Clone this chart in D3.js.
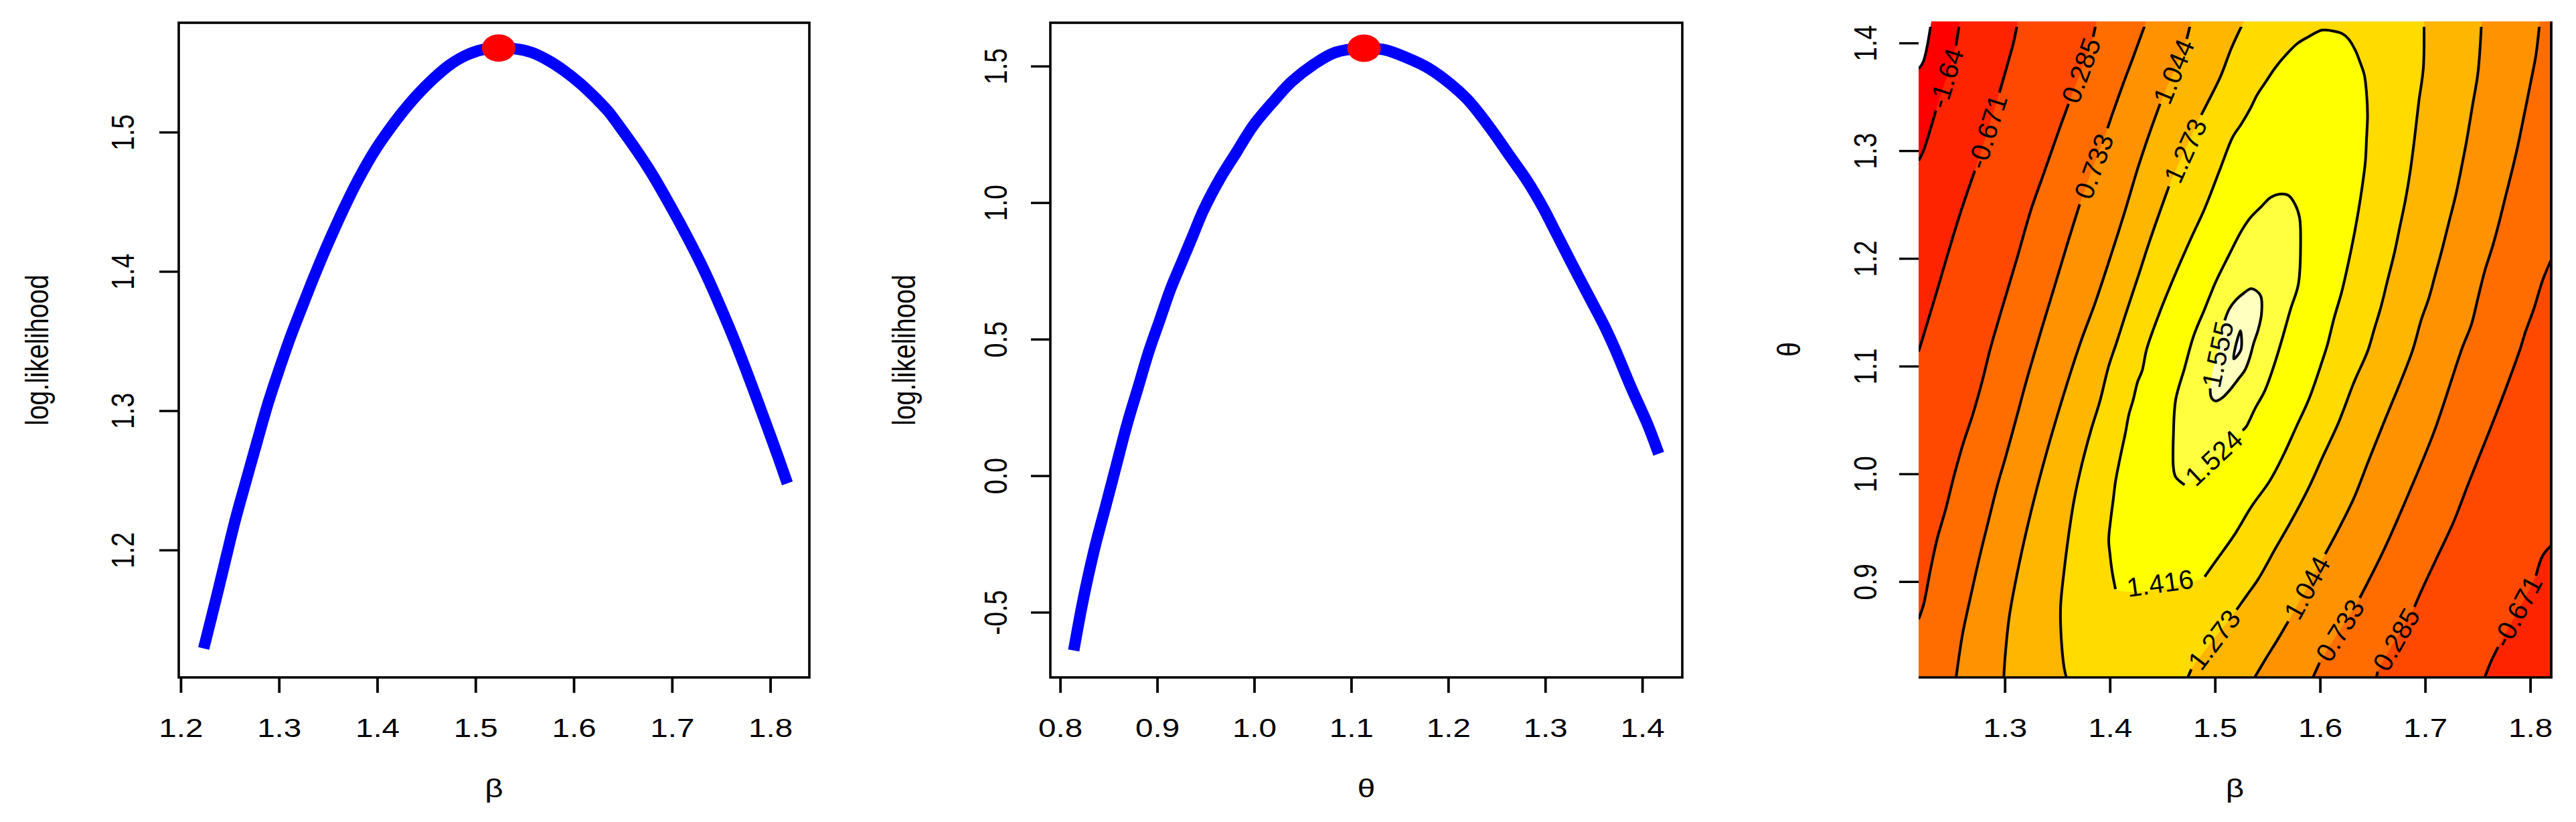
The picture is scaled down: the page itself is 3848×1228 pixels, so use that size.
<!DOCTYPE html>
<html><head><meta charset="utf-8">
<script src="https://cdn.jsdelivr.net/npm/d3@7"></script>
<style>
html,body{margin:0;padding:0;background:#fff;}
svg{display:block;}
text{font-family:"Liberation Sans",Arial,Helvetica,sans-serif;fill:#000;}
</style></head><body>
<svg id="chart" width="3848" height="1228"></svg>
<script>
// ---------------- DATA ----------------
// Panel 1: profile log-likelihood vs beta
const betaValues = [1.2234,1.2363,1.2446,1.2558,1.2669,1.2781,1.2892,1.3004,1.3115,1.3227,1.3339,1.3450,1.3562,1.3673,1.3785,1.3952,1.4064,1.4231,1.4398,1.4566,1.4733,1.4900,1.5067,1.5235,1.5402,1.5569,1.5737,1.5904,1.6071,1.6239,1.6350,1.6462,1.6629,1.6796,1.6964,1.7131,1.7298,1.7410,1.7521,1.7633,1.7744,1.7856,1.7968,1.8079,1.8174];
const llBetaValues = [1.1293,1.1658,1.1900,1.2222,1.2505,1.2787,1.3060,1.3300,1.3525,1.3730,1.3930,1.4120,1.4300,1.4470,1.4630,1.4840,1.4960,1.5120,1.5260,1.5380,1.5480,1.5550,1.5591,1.5602,1.5598,1.5572,1.5516,1.5440,1.5346,1.5233,1.5150,1.5045,1.4880,1.4700,1.4495,1.4280,1.4050,1.3880,1.3700,1.3510,1.3310,1.3100,1.2885,1.2670,1.2478];
const mleBeta = [1.5236, 1.5604];

// Panel 2: profile log-likelihood vs theta
const thetaValues = [0.8140,0.8237,0.8350,0.8463,0.8576,0.8689,0.8802,0.8915,0.9028,0.9141,0.9254,0.9367,0.9480,0.9650,0.9819,0.9989,1.0215,1.0384,1.0610,1.0836,1.1130,1.1345,1.1571,1.1797,1.2023,1.2192,1.2305,1.2475,1.2644,1.2814,1.2983,1.3096,1.3266,1.3435,1.3605,1.3718,1.3887,1.4056,1.4170];
const llThetaValues = [-0.640,-0.455,-0.2735,-0.120,0.0336,0.1871,0.3215,0.4559,0.5710,0.6862,0.7821,0.8781,0.9741,1.0893,1.1852,1.2812,1.3772,1.4420,1.5050,1.5499,1.5653,1.5595,1.5307,1.4923,1.4347,1.3800,1.3330,1.2524,1.1660,1.0797,0.9780,0.9000,0.7821,0.6670,0.5518,0.4650,0.3215,0.1871,0.0800];
const mleTheta = [1.1132, 1.5654];

// axis limits and ticks
const xlim1 = [1.198, 1.8398], ylim1 = [1.1085, 1.5785];
const xlim2 = [0.7899, 1.4413], ylim2 = [-0.7388, 1.6586];
const xlim3 = [1.218, 1.820],  ylim3 = [0.811, 1.420];
const xTicks1 = [1.2,1.3,1.4,1.5,1.6,1.7,1.8];
const yTicks1 = [1.2,1.3,1.4,1.5];
const xTicks2 = [0.8,0.9,1.0,1.1,1.2,1.3,1.4];
const yTicks2 = [-0.5,0.0,0.5,1.0,1.5];
const xTicks3 = [1.3,1.4,1.5,1.6,1.7,1.8];
const yTicks3 = [0.9,1.0,1.1,1.2,1.3,1.4];

// Panel 3: contour breaks and heat colours
const contourBreaks = [-2.61, -1.64, -0.671, 0.285, 0.733, 1.044, 1.273, 1.416, 1.524, 1.555, 1.563];
const heatColors = ["#FF0000","#FF2400","#FF4900","#FF6D00","#FF9200","#FFB600","#FFDB00","#FFFF00","#FFFF40","#FFFFBF"];

// contour polylines [beta, theta] (A = before label, B = after label)
const cMin = [[1.2301,1.420],[1.2225,1.3827],[1.218,1.3759]];
const c164L_A = [[1.2572,1.420],[1.2535,1.3974]];
const c164L_B = [[1.2344,1.3373],[1.2301,1.3229],[1.2227,1.3000],[1.218,1.2907]];
const c0671L_A = [[1.3123,1.420],[1.3086,1.4015],[1.3034,1.3829],[1.2949,1.3539]];
const c0671L_B = [[1.2715,1.2814],[1.2577,1.2421],[1.2460,1.2048],[1.2354,1.1696],[1.2258,1.1385],[1.218,1.1136]];
const c0671R_A = [[1.820,0.9334],[1.8119,0.9241],[1.8055,0.9055]];
const c0671R_B = [[1.7695,0.8392],[1.7631,0.8267],[1.7567,0.811]];
const c0285L_A = [[1.3873,1.420],[1.3841,1.4057]];
const c0285L_B = [[1.3607,1.3435],[1.3522,1.3208],[1.3373,1.2794],[1.3246,1.2441],[1.3118,1.2006],[1.2991,1.1592],[1.2864,1.1167],[1.2779,1.0836],[1.2694,1.0546],[1.2609,1.0297],[1.2524,1.0007],[1.2439,0.9676],[1.2354,0.9386],[1.2290,0.9096],[1.2227,0.8785],[1.218,0.8651]];
const c0285R_A = [[1.820,1.1988],[1.8119,1.1799],[1.8034,1.1530],[1.7949,1.1302],[1.7907,1.1167],[1.7737,1.0712],[1.7588,1.0339],[1.7418,0.9925],[1.7270,0.9552],[1.7121,0.9241],[1.6972,0.8930],[1.6898,0.8764]];
const c0285R_B = [[1.6548,0.8164],[1.6537,0.811]];
const c0733L_A = [[1.4346,1.420],[1.4223,1.3871],[1.4127,1.3622],[1.4021,1.3332],[1.3978,1.3208]];
const c0733L_B = [[1.3713,1.2503],[1.3607,1.2172],[1.3479,1.1758],[1.3363,1.1385],[1.3204,1.0857],[1.3118,1.0546],[1.3013,1.0173],[1.2927,0.9883],[1.2842,0.9552],[1.2758,0.9220],[1.2672,0.8848],[1.2599,0.8516],[1.2537,0.811]];
const c0733R_A = [[1.8091,1.420],[1.8055,1.3891],[1.8002,1.3622],[1.7938,1.3311],[1.7886,1.3063],[1.7832,1.2835],[1.7768,1.2586],[1.7705,1.2338],[1.7641,1.2110],[1.7567,1.1882],[1.7503,1.1633],[1.7440,1.1385],[1.7352,1.1167],[1.7089,1.0401],[1.6845,0.9821],[1.6612,0.9303],[1.6378,0.8848]];
const c0733R_B = [[1.5996,0.8247],[1.5932,0.811]];
const c1044L_A = [[1.4773,1.420],[1.4732,1.4037]];
const c1044L_B = [[1.4478,1.3435],[1.4371,1.3145],[1.4265,1.2835],[1.4138,1.2421],[1.3989,1.1965],[1.3862,1.1592],[1.3713,1.1198],[1.3501,1.0546],[1.3373,1.0111],[1.3246,0.9634],[1.3140,0.9179],[1.3044,0.8682],[1.3002,0.8288],[1.2991,0.811]];
const c1044R_A = [[1.7537,1.420],[1.7503,1.3726],[1.7450,1.3415],[1.7397,1.3104],[1.7344,1.2835],[1.7291,1.2586],[1.7227,1.2338],[1.7163,1.2089],[1.7100,1.1862],[1.7036,1.1633],[1.6962,1.1427],[1.6877,1.1136],[1.6590,1.0434],[1.6452,1.0097],[1.6325,0.9781],[1.6176,0.9486],[1.6049,0.9255]];
const c1044R_B = [[1.5698,0.8630],[1.5592,0.8454],[1.5486,0.8288],[1.5378,0.811]];
const c1273L_A = [[1.5275,1.420],[1.5157,1.3953],[1.5051,1.3684],[1.4924,1.3435],[1.4870,1.3332]];
const c1273L_B = [[1.4562,1.2669],[1.4456,1.2379],[1.4361,1.2110],[1.4265,1.1820],[1.4159,1.1509],[1.4064,1.1219],[1.3989,1.1001],[1.3904,1.0670],[1.3819,1.0401],[1.3734,1.0090],[1.3660,0.9759],[1.3607,0.9427],[1.3564,0.9096],[1.3532,0.8785],[1.3532,0.8578],[1.3564,0.8205],[1.3586,0.811]];
const c1273R_A = [[1.6989,1.420],[1.6983,1.3767],[1.6940,1.3456],[1.6898,1.3104],[1.6856,1.2794],[1.6813,1.2545],[1.6760,1.2296],[1.6707,1.2048],[1.6643,1.1799],[1.6580,1.1551],[1.6516,1.1343],[1.6452,1.1136],[1.6325,1.0855],[1.6176,1.0476],[1.6027,1.0161],[1.5900,0.9887],[1.5730,0.9570],[1.5582,0.9318],[1.5412,0.9023],[1.5306,0.8876],[1.5206,0.8738]];
const c1273R_B = [[1.4775,0.8185],[1.4741,0.811]];
const c1416 = [[1.4053,0.8930],[1.4021,0.9096],[1.4000,0.9262],[1.3989,0.9386],[1.4010,0.9593],[1.4032,0.9759],[1.4053,0.9925],[1.4085,1.0090],[1.4116,1.0235],[1.4148,1.0380],[1.4180,1.0546],[1.4223,1.0691],[1.4265,1.0857],[1.4308,1.0960],[1.4350,1.1157],[1.4478,1.1509],[1.4626,1.1862],[1.4775,1.2193],[1.4902,1.2462],[1.5051,1.2835],[1.5168,1.3125],[1.5252,1.3249],[1.5338,1.3394],[1.5401,1.3518],[1.5486,1.3643],[1.5571,1.3767],[1.5677,1.3891],[1.5784,1.3995],[1.5889,1.4057],[1.6017,1.4119],[1.6102,1.4115],[1.6208,1.4088],[1.6271,1.4037],[1.6335,1.3933],[1.6378,1.3829],[1.6421,1.3705],[1.6442,1.3539],[1.6452,1.3332],[1.6442,1.3104],[1.6431,1.2897],[1.6389,1.2586],[1.6335,1.2275],[1.6271,1.1965],[1.6208,1.1696],[1.6134,1.1447],[1.6070,1.1198],[1.6027,1.1066],[1.5900,1.0708],[1.5773,1.0434],[1.5645,1.0161],[1.5518,0.9929],[1.5348,0.9697],[1.5178,0.9423],[1.5008,0.9191],[1.4902,0.9044]];
const c1524 = [[1.4711,0.9897],[1.4626,0.9971],[1.4605,1.0055],[1.4605,1.0371],[1.4626,1.0687],[1.4711,1.0982],[1.4796,1.1277],[1.4902,1.1530],[1.5008,1.1783],[1.5136,1.2036],[1.5252,1.2255],[1.5338,1.2379],[1.5443,1.2483],[1.5529,1.2566],[1.5613,1.2597],[1.5698,1.2586],[1.5762,1.2503],[1.5805,1.2379],[1.5815,1.2172],[1.5794,1.1762],[1.5720,1.1530],[1.5634,1.1235],[1.5561,1.1003],[1.5475,1.0772],[1.5380,1.0603],[1.5295,1.0434],[1.5263,1.0403]];
const c1555 = [[1.5093,1.1425],[1.5136,1.1530],[1.5199,1.1614],[1.5274,1.1677],[1.5348,1.1719],[1.5433,1.1656],[1.5443,1.1487],[1.5412,1.1340],[1.5369,1.1214],[1.5327,1.1066],[1.5284,1.0961],[1.5220,1.0877],[1.5136,1.0772],[1.5072,1.0708],[1.5008,1.0676],[1.4966,1.0708],[1.4955,1.0793]];
const cMax = [[1.5242,1.1329],[1.5246,1.1149],[1.5178,1.1068]];

// tables built from the arrays above
const openContours = [
  {level:-1.64,  left:[c164L_A,c164L_B],   right:null},
  {level:-0.671, left:[c0671L_A,c0671L_B], right:[c0671R_A,c0671R_B]},
  {level:0.285,  left:[c0285L_A,c0285L_B], right:[c0285R_A,c0285R_B]},
  {level:0.733,  left:[c0733L_A,c0733L_B], right:[c0733R_A,c0733R_B]},
  {level:1.044,  left:[c1044L_A,c1044L_B], right:[c1044R_A,c1044R_B]},
  {level:1.273,  left:[c1273L_A,c1273L_B], right:[c1273R_A,c1273R_B]}
];
const closedContours = [
  {level:1.416, path:c1416},
  {level:1.524, path:c1524},
  {level:1.555, path:c1555}
];

// ---------------- DRAWING ----------------
const svg = d3.select("#chart");
const SX = 1.22;          // horizontal stretch of the original raster (axis text)
const FS = 39, LFS = 40;   // font sizes

function addText(g, str, x, y, rot, size) {
  return g.append("text").text(str)
    .attr("transform", `translate(${x},${y}) scale(${SX},1) rotate(${rot||0})`)
    .attr("text-anchor","middle")
    .style("font-size", (size||FS) + "px");
}
function styleBottom(g, off) {
  g.select(".domain").remove();
  g.selectAll(".tick line").attr("stroke","#000").attr("stroke-width",3.8);
  g.selectAll(".tick text").attr("y",null).attr("dy",null).attr("fill","#000")
    .attr("transform",`translate(0,${off}) scale(${SX},1)`).style("font-size",FS+"px");
}
function styleLeft(g, off) {
  g.select(".domain").remove();
  g.selectAll(".tick line").attr("stroke","#000").attr("stroke-width",3.4);
  g.selectAll(".tick text").attr("x",null).attr("dy",null).attr("fill","#000")
    .attr("text-anchor","middle")
    .attr("transform",`translate(${off},0) scale(${SX},1) rotate(-90)`).style("font-size",FS+"px");
}
const fmt = d => d.toFixed(1);

function profilePanel(o) {
  const x = d3.scaleLinear().domain(o.xlim).range([o.left,o.right]);
  const y = d3.scaleLinear().domain(o.ylim).range([o.bottom,o.top]);
  const g = svg.append("g");
  const pts = o.xs.map((v,i)=>[v,o.ys[i]]);
  g.append("path").datum(pts)
    .attr("d", d3.line().curve(d3.curveCatmullRom.alpha(0.5)).x(d=>x(d[0])).y(d=>y(d[1])))
    .attr("fill","none").attr("stroke","#0000FF").attr("stroke-width",17)
    .attr("stroke-linejoin","round").attr("stroke-linecap","butt");
  g.append("ellipse").attr("cx",x(o.mle[0])).attr("cy",y(o.mle[1]))
    .attr("rx",25).attr("ry",20.5).attr("fill","#FF0000");
  g.append("rect").attr("x",o.left).attr("y",o.top).attr("width",o.right-o.left).attr("height",o.bottom-o.top)
    .attr("fill","none").attr("stroke","#000").attr("stroke-width",3.6);
  const gx = g.append("g").attr("transform",`translate(0,${o.bottom})`)
    .call(d3.axisBottom(x).tickValues(o.xTicks).tickSize(23).tickFormat(fmt));
  styleBottom(gx, 89);
  const gy = g.append("g").attr("transform",`translate(${o.left},0)`)
    .call(d3.axisLeft(y).tickValues(o.yTicks).tickSize(29).tickFormat(fmt));
  styleLeft(gy, o.yLabOff);
  addText(g, o.xlab, (o.left+o.right)/2, 1191, 0);
  addText(g, o.ylab, o.ylabX, (o.top+o.bottom)/2, -90);
}

profilePanel({xlim:xlim1, ylim:ylim1, left:267, right:1209, top:34, bottom:1012,
  xs:betaValues, ys:llBetaValues, mle:mleBeta, xTicks:xTicks1, yTicks:yTicks1,
  yLabOff:-67, xlab:"β", ylab:"log.likelihood", ylabX:72});
profilePanel({xlim:xlim2, ylim:ylim2, left:1569, right:2513, top:34, bottom:1012,
  xs:thetaValues, ys:llThetaValues, mle:mleTheta, xTicks:xTicks2, yTicks:yTicks2,
  yLabOff:-65, xlab:"θ", ylab:"log.likelihood", ylabX:1367});

// ---- Panel 3: image + contour ----
const L3 = 2866, R3 = 3811, T3 = 32, B3 = 1012;
const x3 = d3.scaleLinear().domain(xlim3).range([L3,R3]);
const y3 = d3.scaleLinear().domain(ylim3).range([B3,T3]);
const g3 = svg.append("g");
const defs = svg.append("defs");
defs.append("clipPath").attr("id","clipFill").append("rect")
  .attr("x",L3).attr("y",T3).attr("width",R3-L3).attr("height",B3-T3);
defs.append("clipPath").attr("id","clipLine").append("rect")
  .attr("x",L3).attr("y",40).attr("width",R3-L3).attr("height",B3-40);

const px = p => [x3(p[0]), y3(p[1])];
const lineC = d3.line().curve(d3.curveCatmullRom.alpha(0.5));
const lineClosed = d3.line().curve(d3.curveCatmullRomClosed.alpha(0.5));
const segPath = (pts, first) => { const s = lineC(pts.map(px)); return first ? s : s.replace(/^M/,"L"); };

const [B0,B1] = xlim3, [T0,T1] = ylim3;
const Wd = B1-B0, Hd = T1-T0, P = 2*Wd+2*Hd;
function perimT(p) {
  const e = 1e-4, [b,t] = p;
  if (Math.abs(b-B0) < e) return T1 - t;
  if (Math.abs(t-T0) < e) return Hd + (b-B0);
  if (Math.abs(b-B1) < e) return Hd + Wd + (t-T0);
  return 2*Hd + Wd + (B1-b);
}
const corners = [[Hd,[B0,T0]],[Hd+Wd,[B1,T0]],[2*Hd+Wd,[B1,T1]],[0,[B0,T1]]];
function walk(p1, p2) {
  const t1 = perimT(p1), t2 = perimT(p2);
  const span = ((t2-t1)%P+P)%P;
  return corners.map(([tc,pt]) => [((tc-t1)%P+P)%P, pt])
    .filter(([d]) => d > 1e-9 && d < span).sort((a,b)=>a[0]-b[0])
    .map(([,pt]) => { const q = px(pt); return `L${q[0]},${q[1]}`; }).join("");
}

const fills = g3.append("g").attr("clip-path","url(#clipFill)");
fills.append("rect").attr("x",L3).attr("y",T3).attr("width",R3-L3).attr("height",B3-T3)
  .attr("fill",heatColors[0]);
fills.append("path").attr("fill","#FFFFFF")
  .attr("d", segPath(cMin,true) + `L${x3(B0)},${y3(T1)}Z`);
openContours.forEach(c => {
  const left = c.left[0].concat(c.left[1]);
  let d = segPath(left, true);
  if (c.right) {
    const right = c.right[0].concat(c.right[1]);
    const rev = right.slice().reverse();
    d += walk(left[left.length-1], rev[0]);
    d += segPath(rev, false);
    d += walk(right[0], left[0]);
  } else {
    d += walk(left[left.length-1], left[0]);
  }
  d += "Z";
  fills.append("path").attr("d", d).attr("fill", heatColors[contourBreaks.indexOf(c.level)]);
});
closedContours.forEach(c => {
  fills.append("path").attr("d", lineClosed(c.path.map(px)))
    .attr("fill", heatColors[contourBreaks.indexOf(c.level)]);
});
fills.append("path").attr("d", lineClosed(cMax.map(px))).attr("fill","#FFFFFF");

// contour lines
const lines = g3.append("g").attr("clip-path","url(#clipLine)")
  .attr("fill","none").attr("stroke","#000").attr("stroke-width",4).attr("stroke-linejoin","round");
const strokeSeg = pts => lines.append("path").attr("d", lineC(pts.map(px)));
strokeSeg(cMin);
openContours.forEach(c => {
  [c.left, c.right].forEach(br => { if (br) { strokeSeg(br[0]); strokeSeg(br[1]); } });
});
closedContours.forEach(c => strokeSeg(c.path));
lines.append("path").attr("d", lineClosed(cMax.map(px)));

// contour labels, centred in the gaps
const labels = g3.append("g");
function gapLabel(level, a, b) {
  const [xa,ya] = px(a), [xb,yb] = px(b);
  let dx = xb-xa, dy = yb-ya;
  if (dx < 0) { dx = -dx; dy = -dy; }
  const ang = Math.atan2(dy, dx) * 180 / Math.PI;
  labels.append("text").text(String(level))
    .attr("transform", `translate(${(xa+xb)/2},${(ya+yb)/2}) rotate(${ang})`)
    .attr("text-anchor","middle").attr("dy","0.36em")
    .attr("fill","#222")
    .style("font-size", LFS+"px");
}
openContours.forEach(c => {
  [c.left, c.right].forEach(br => {
    if (br) gapLabel(c.level, br[0][br[0].length-1], br[1][0]);
  });
});
closedContours.forEach(c => gapLabel(c.level, c.path[c.path.length-1], c.path[0]));

// frame lines (bottom and right) and axes
g3.append("line").attr("x1",L3).attr("x2",R3+1.9).attr("y1",B3).attr("y2",B3)
  .attr("stroke","#000").attr("stroke-width",3.6);
g3.append("line").attr("x1",R3).attr("x2",R3).attr("y1",T3).attr("y2",B3)
  .attr("stroke","#000").attr("stroke-width",3.8);
const gx3 = g3.append("g").attr("transform",`translate(0,${B3})`)
  .call(d3.axisBottom(x3).tickValues(xTicks3).tickSize(23).tickFormat(fmt));
styleBottom(gx3, 89);
const gy3 = g3.append("g").attr("transform",`translate(${L3},0)`)
  .call(d3.axisLeft(y3).tickValues(yTicks3).tickSize(29).tickFormat(fmt));
styleLeft(gy3, -63);
addText(g3, "β", (L3+R3)/2, 1191, 0);
addText(g3, "θ", 2689, (T3+B3)/2, -90);
</script>
</body></html>
